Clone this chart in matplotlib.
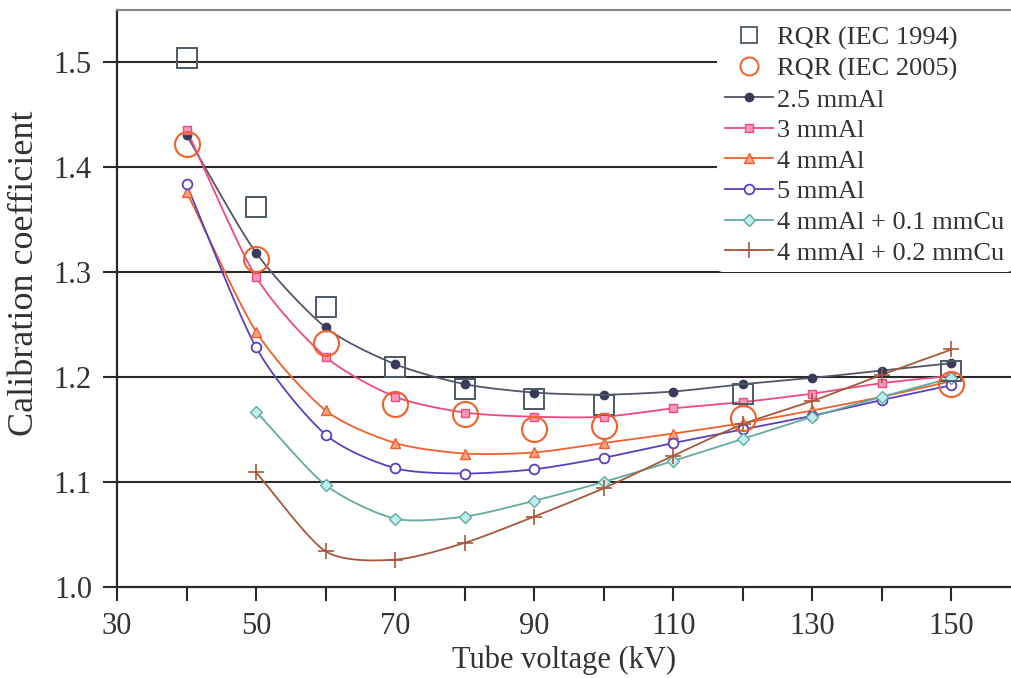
import numpy as np
import matplotlib
matplotlib.use('Agg')
import matplotlib.pyplot as plt
from matplotlib.lines import Line2D

plt.rcParams['font.family'] = ['Liberation Serif', 'DejaVu Serif']

# Dados
kv = [40, 50, 60, 70, 80, 90, 100, 110, 120, 130, 140, 150]
kv_cu = kv[1:]

rqr_1994_x = [40, 50, 60, 70, 80, 90, 100, 120, 150]
rqr_1994_y = [1.503, 1.362, 1.266, 1.209, 1.188, 1.179, 1.173, 1.184, 1.206]
rqr_2005_x = [40, 50, 60, 70, 80, 90, 100, 120, 150]
rqr_2005_y = [1.422, 1.312, 1.232, 1.174, 1.165, 1.150, 1.153, 1.161, 1.193]

al_25 = [1.430, 1.318, 1.247, 1.212, 1.193, 1.185, 1.183, 1.186, 1.193, 1.199, 1.206, 1.213]
al_3 = [1.435, 1.295, 1.219, 1.181, 1.166, 1.162, 1.162, 1.170, 1.176, 1.184, 1.194, 1.201]
al_4 = [1.376, 1.243, 1.168, 1.137, 1.127, 1.128, 1.137, 1.146, 1.156, 1.168, 1.181, 1.196]
al_5 = [1.383, 1.228, 1.145, 1.113, 1.108, 1.112, 1.123, 1.137, 1.150, 1.163, 1.178, 1.192]
al4_cu01 = [1.167, 1.097, 1.065, 1.067, 1.082, 1.100, 1.120, 1.141, 1.162, 1.181, 1.199]
al4_cu02 = [1.109, 1.034, 1.026, 1.042, 1.067, 1.094, 1.125, 1.155, 1.177, 1.202, 1.226]


def suavizar(x, y, n=24, k=0.38):
    # spline cardinal passando pelos pontos (parecido com a linha suavizada do Excel)
    x = np.asarray(x, float)
    y = np.asarray(y, float)
    px = np.concatenate([[2 * x[0] - x[1]], x, [2 * x[-1] - x[-2]]])
    py = np.concatenate([[2 * y[0] - y[1]], y, [2 * y[-1] - y[-2]]])
    xs, ys = [], []
    t = np.linspace(0, 1, n, endpoint=False)
    h00 = 2 * t ** 3 - 3 * t ** 2 + 1
    h10 = t ** 3 - 2 * t ** 2 + t
    h01 = -2 * t ** 3 + 3 * t ** 2
    h11 = t ** 3 - t ** 2
    for i in range(1, len(px) - 2):
        for p, out in ((px, xs), (py, ys)):
            m1 = k * (p[i + 1] - p[i - 1])
            m2 = k * (p[i + 2] - p[i])
            out.extend(h00 * p[i] + h10 * m1 + h01 * p[i + 1] + h11 * m2)
    xs.append(x[-1])
    ys.append(y[-1])
    return xs, ys


fig = plt.figure(figsize=(10.12, 6.78), dpi=100)
ax = fig.add_axes([0.1156, 0.1342, 0.8844, 0.8510])

for yv in [1.1, 1.2, 1.3, 1.4, 1.5]:
    ax.axhline(yv, color='#2a2a2a', lw=1.5, zorder=1)

series = [
    (kv, al_25, '2.5 mmAl', '#55556a', dict(marker='o', ms=6, mfc='#3a3a5c', mec='#3a3a5c')),
    (kv, al_3, '3 mmAl', '#ee4a7e', dict(marker='s', ms=6, mfc='#f59ab8', mec='#ee4a7e')),
    (kv, al_4, '4 mmAl', '#f0602a', dict(marker='^', ms=7, mfc='#f8a080', mec='#f0602a')),
    (kv, al_5, '5 mmAl', '#5a40c0', dict(marker='o', ms=7, mfc='white', mec='#5a40c0', mew=1.3)),
    (kv_cu, al4_cu01, '4 mmAl + 0.1 mmCu', '#62aaa2', dict(marker='D', ms=6, mfc='#bfeeee', mec='#62aaa2')),
    (kv_cu, al4_cu02, '4 mmAl + 0.2 mmCu', '#a8583a', dict(marker='+', ms=12, mec='#a8583a', mew=1.2)),
]

handles = [
    Line2D([], [], ls='none', marker='s', ms=11, mfc='none', mec='#4c5a68', mew=1.3, label='RQR (IEC 1994)'),
    Line2D([], [], ls='none', marker='o', ms=13, mfc='none', mec='#f0602a', mew=1.4, label='RQR (IEC 2005)'),
]

for x, y, nome, cor, estilo in series:
    sx, sy = suavizar(x, y)
    ax.plot(sx, sy, color=cor, lw=1.3, zorder=2)
    ax.plot(x, y, ls='none', zorder=3, **estilo)
    handles.append(Line2D([], [], color=cor, lw=1.3, label=nome, **estilo))

ax.plot(rqr_1994_x, rqr_1994_y, ls='none', marker='s', ms=15, mfc='none',
        mec='#4c5a68', mew=1.4, zorder=4)
ax.plot(rqr_2005_x, rqr_2005_y, ls='none', marker='o', ms=18, mfc='none',
        mec='#f0602a', mew=1.5, zorder=4)

ax.set_xlim(30, 158.7)
ax.set_ylim(1.0, 1.549)
ax.set_xticks(range(30, 160, 10))
ax.set_xticklabels([str(v) if v % 20 == 10 else '' for v in range(30, 160, 10)])
ax.set_yticks([1.0, 1.1, 1.2, 1.3, 1.4, 1.5])
ax.set_yticklabels(['1.0', '1.1', '1.2', '1.3', '1.4', '1.5'])
ax.tick_params(direction='out', length=10, width=1.5, labelsize=22,
               colors='#2a2a2a', labelcolor='#333333', pad=8)

for lado in ['left', 'bottom']:
    ax.spines[lado].set_linewidth(1.6)
    ax.spines[lado].set_color('#2a2a2a')
ax.spines['top'].set_color('#888888')
ax.spines['top'].set_linewidth(1.5)
ax.spines['right'].set_visible(False)

ax.set_xlabel('Tube voltage (kV)', fontsize=22, color='#333333', labelpad=3)
ax.set_ylabel('Calibration coefficient', fontsize=26, color='#333333')
ax.yaxis.set_label_coords(-0.085, 0.543)

leg = ax.legend(handles=handles, loc='upper right', bbox_to_anchor=(1.0, 0.986),
                fontsize=19, frameon=True, framealpha=1, edgecolor='none',
                facecolor='white', handlelength=1.8, handletextpad=0.15,
                labelspacing=0.27, borderpad=0.3, borderaxespad=0.0)
for txt in leg.get_texts():
    txt.set_color('#333333')
leg.set_zorder(5)

fig.savefig('out.png', dpi=100)
